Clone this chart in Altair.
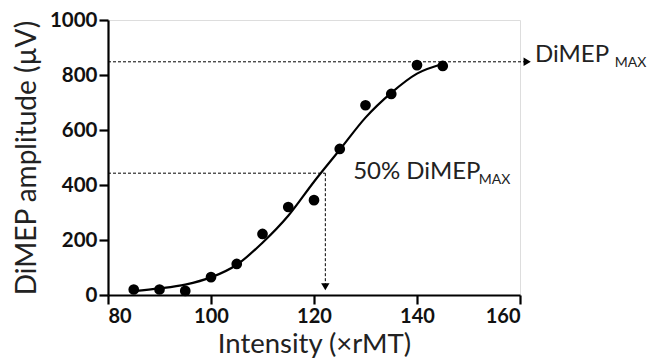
import altair as alt
import pandas as pd

# Observed data points
intensity = [85, 90, 95, 100, 105, 110, 115, 120, 125, 130, 135, 140, 145]
amplitude = [20, 20, 15, 65, 113, 222, 320, 345, 531, 690, 731, 836, 833]

# Fitted curve
curve_x = [85, 90, 95, 100, 105, 110, 115, 120, 125, 130, 135, 140, 145]
curve_y = [14, 24, 38, 64, 110, 190, 288, 412, 528, 645, 735, 805, 840]

dimep_max = 848
half_max = 443
half_x = 122.2
arrow_end_x = 162.6
arrow_end_y = 18

pts = pd.DataFrame({"x": intensity, "y": amplitude})
curve = pd.DataFrame({"x": curve_x, "y": curve_y})

xs = alt.Scale(domain=[80, 160], nice=False, zero=False)
ys = alt.Scale(domain=[0, 1000], nice=False)

xaxis = alt.Axis(values=[80, 100, 120, 140, 160], title="Intensity (×rMT)", format="d",
                 grid=False, domainColor="black", domainWidth=2.2, tickColor="black",
                 tickWidth=2.2, tickSize=9, labelFont="Lato", labelFontWeight="bold",
                 labelFontSize=20, labelColor="#111", labelPadding=2,
                 titleFont="Lato", titleFontWeight="normal", titleFontSize=27.5,
                 titleColor="#222", titlePadding=4)
yaxis = alt.Axis(values=[0, 200, 400, 600, 800, 1000], title="DiMEP amplitude (µV)", format="d",
                 grid=False, domainColor="black", domainWidth=2.2, tickColor="black",
                 tickWidth=2.2, tickSize=9, labelFont="Lato", labelFontWeight="bold",
                 labelFontSize=20.5, labelColor="#111", labelPadding=2,
                 titleFont="Lato", titleFontWeight="normal", titleFontSize=28,
                 titleColor="#222", titlePadding=8)

base_axes = alt.Chart(pts).mark_point(opacity=0).encode(
    x=alt.X("x:Q", scale=xs, axis=xaxis),
    y=alt.Y("y:Q", scale=ys, axis=yaxis),
)

# dashed guide lines
hlines = pd.DataFrame({"x": [80, 80], "x2": [arrow_end_x - 1.5, half_x], "y": [dimep_max, half_max]})
hrule = alt.Chart(hlines).mark_rule(color="black", strokeWidth=1, strokeDash=[3, 2]).encode(
    x=alt.X("x:Q", scale=xs), x2="x2:Q", y=alt.Y("y:Q", scale=ys))

vline = pd.DataFrame({"x": [half_x], "y": [half_max], "y2": [arrow_end_y + 15]})
vrule = alt.Chart(vline).mark_rule(color="black", strokeWidth=1, strokeDash=[3, 2]).encode(
    x=alt.X("x:Q", scale=xs), y=alt.Y("y:Q", scale=ys), y2="y2:Q")

arr_r = alt.Chart(pd.DataFrame({"x": [arrow_end_x - 1.2], "y": [dimep_max]})).mark_point(
    shape="triangle-right", filled=True, color="black", size=70, opacity=1).encode(
    x=alt.X("x:Q", scale=xs), y=alt.Y("y:Q", scale=ys))
arr_d = alt.Chart(pd.DataFrame({"x": [half_x], "y": [arrow_end_y + 12]})).mark_point(
    shape="triangle-down", filled=True, color="black", size=70, opacity=1).encode(
    x=alt.X("x:Q", scale=xs), y=alt.Y("y:Q", scale=ys))

line = alt.Chart(curve).mark_line(color="black", strokeWidth=2.2, interpolate="monotone").encode(
    x=alt.X("x:Q", scale=xs), y=alt.Y("y:Q", scale=ys))

dots = alt.Chart(pts).mark_circle(color="black", size=115, opacity=1).encode(
    x=alt.X("x:Q", scale=xs), y=alt.Y("y:Q", scale=ys))

# annotation texts
main_txt = pd.DataFrame({"x": [162.9, 127.6], "y": [dimep_max, 422], "t": ["DiMEP", "50% DiMEP"]})
sub_txt = pd.DataFrame({"x": [178.4, 152.0], "y": [829, 404], "t": ["MAX", "MAX"]})

t1 = alt.Chart(main_txt).mark_text(align="left", baseline="alphabetic", font="Lato",
                                   fontSize=24, color="#222").encode(
    x=alt.X("x:Q", scale=xs), y=alt.Y("y:Q", scale=ys), text="t:N")
t2 = alt.Chart(sub_txt).mark_text(align="left", baseline="alphabetic", font="Lato",
                                  fontSize=14, color="#222").encode(
    x=alt.X("x:Q", scale=xs), y=alt.Y("y:Q", scale=ys), text="t:N")

chart = alt.layer(base_axes, hrule, vrule, arr_r, arr_d, line, dots, t1, t2).properties(
    width=412, height=275,
    autosize=alt.AutoSizeParams(type="none"),
    padding={"left": 100, "top": 12, "right": 127, "bottom": 66},
).configure_view(stroke=None).configure(background="white")

chart.save("out.html", embed_options={"renderer": "svg", "actions": False})
